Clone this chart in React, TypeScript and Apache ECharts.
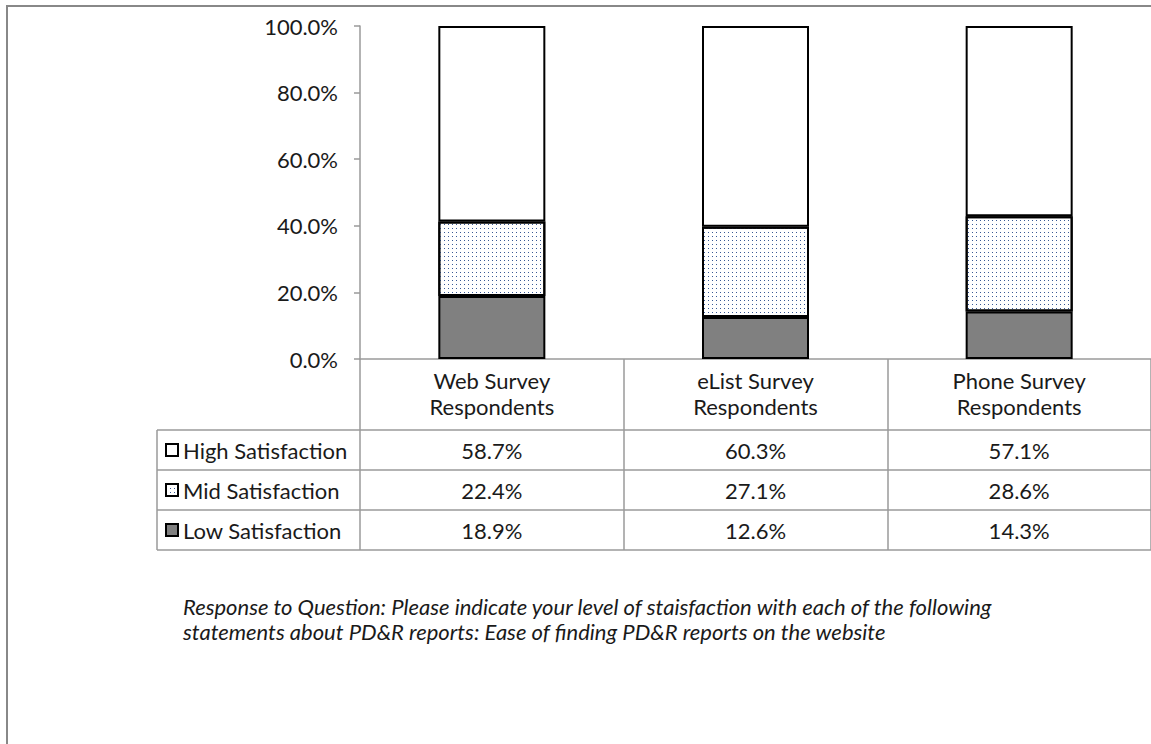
import React, { useEffect, useRef } from "react";
import * as echarts from "echarts";

const categories = ["Web Survey\nRespondents", "eList Survey\nRespondents", "Phone Survey\nRespondents"];
const lowValues = [18.9, 12.6, 14.3];
const midValues = [22.4, 27.1, 28.6];
const highValues = [58.7, 60.3, 57.1];
const seriesNames = ["High Satisfaction", "Mid Satisfaction", "Low Satisfaction"];
const yTicks = [0, 20, 40, 60, 80, 100];
const caption =
  "Response to Question: Please indicate your level of staisfaction with each of the following\nstatements about PD&R reports: Ease of finding PD&R reports on the website";

const FONT = "Lato, 'Noto Sans', sans-serif";
const TEXT = "#1a1a1a";
const GRID_GRAY = "#9a9a9a";
const FS = 22;

export default function App() {
  const ref = useRef<HTMLDivElement>(null);
  useEffect(() => {
    if (!ref.current) return;
    const chart = echarts.init(ref.current, undefined, { renderer: "svg" });
    const midDecal = {
      symbol: "rect",
      symbolSize: 1,
      dashArrayX: [1, 3],
      dashArrayY: [1, 3],
      color: "#3a5a96",
    };
    const border = { borderColor: "#000", borderWidth: 2 };
    chart.setOption({
      animation: false,
      backgroundColor: "#fff",
      textStyle: { fontFamily: FONT },
      grid: { left: 360, top: 26, bottom: 744 - 359, right: -6, containLabel: false },
      legend: {
        orient: "vertical",
        left: 165,
        top: 439,
        padding: 0,
        itemWidth: 12,
        itemHeight: 12,
        itemGap: 18,
        icon: "rect",
        textStyle: { fontSize: FS, color: TEXT, fontFamily: FONT, lineHeight: 22 },
        data: [
          { name: seriesNames[0], itemStyle: { color: "#fff", ...border } },
          { name: seriesNames[1], itemStyle: { color: "#fff", decal: midDecal, ...border } },
          { name: seriesNames[2], itemStyle: { color: "#808080", ...border } },
        ],
      },
      xAxis: {
        type: "category",
        data: categories,
        axisLine: { lineStyle: { color: GRID_GRAY, width: 1.5 } },
        axisTick: { show: true, length: 191, lineStyle: { color: GRID_GRAY, width: 1.5 } },
        axisLabel: { fontSize: FS, color: TEXT, lineHeight: 26, margin: 8, fontFamily: FONT },
      },
      yAxis: {
        type: "value",
        min: 0,
        max: 100,
        interval: 20,
        splitLine: { show: false },
        axisLine: { show: true, lineStyle: { color: GRID_GRAY, width: 1.5 } },
        axisTick: { show: true, length: 6, lineStyle: { color: GRID_GRAY, width: 1.5 } },
        axisLabel: {
          fontSize: FS,
          color: TEXT,
          margin: 22,
          fontFamily: FONT,
          formatter: (v: number) => (yTicks.includes(v) ? v.toFixed(1) + "%" : ""),
        },
      },
      series: [
        {
          name: seriesNames[2],
          type: "bar",
          stack: "s",
          barWidth: 107,
          data: lowValues,
          itemStyle: { color: "#808080", ...border },
        },
        {
          name: seriesNames[1],
          type: "bar",
          stack: "s",
          barWidth: 107,
          data: midValues,
          itemStyle: { color: "#fff", decal: midDecal, ...border },
        },
        {
          name: seriesNames[0],
          type: "bar",
          stack: "s",
          barWidth: 107,
          data: highValues,
          itemStyle: { color: "#fff", ...border },
        },
      ],
    });

    // Data table built from the arrays, columns placed via the library's x scale
    const rowCenters = [450, 490, 530];
    const rowValues = [highValues, midValues, lowValues];
    const graphics: any[] = [
      {
        type: "rect",
        shape: { x: 7, y: 6, width: 1300, height: 900 },
        style: { fill: "none", stroke: "#888", lineWidth: 2 },
        silent: true,
        z: 100,
      },
      {
        type: "line",
        shape: { x1: 157, y1: 430, x2: 157, y2: 550 },
        style: { stroke: GRID_GRAY, lineWidth: 1.5 },
      },
    ];
    [430, 470, 510, 550].forEach((y) =>
      graphics.push({
        type: "line",
        shape: { x1: 157, y1: y, x2: 1160, y2: y },
        style: { stroke: GRID_GRAY, lineWidth: 1.5 },
      })
    );
    rowValues.forEach((vals, r) => {
      vals.forEach((v, c) => {
        const x = chart.convertToPixel({ xAxisIndex: 0 }, categories[c]) as number;
        graphics.push({
          type: "text",
          x,
          y: rowCenters[r],
          style: {
            text: v.toFixed(1) + "%",
            fontSize: FS,
            fontFamily: FONT,
            fill: TEXT,
            textAlign: "center",
            textVerticalAlign: "middle",
          },
        });
      });
    });
    graphics.push({
      type: "text",
      x: 183,
      y: 594,
      style: {
        text: caption,
        fontSize: 22,
        fontStyle: "italic",
        fontFamily: FONT,
        fill: TEXT,
        lineHeight: 25,
        textAlign: "left",
        textVerticalAlign: "top",
      },
    });
    chart.setOption({ graphic: graphics });

    return () => chart.dispose();
  }, []);
  return (
    <div
      ref={ref}
      style={{ position: "absolute", left: 0, top: 0, width: 1151, height: 744, overflow: "hidden" }}
    />
  );
}
